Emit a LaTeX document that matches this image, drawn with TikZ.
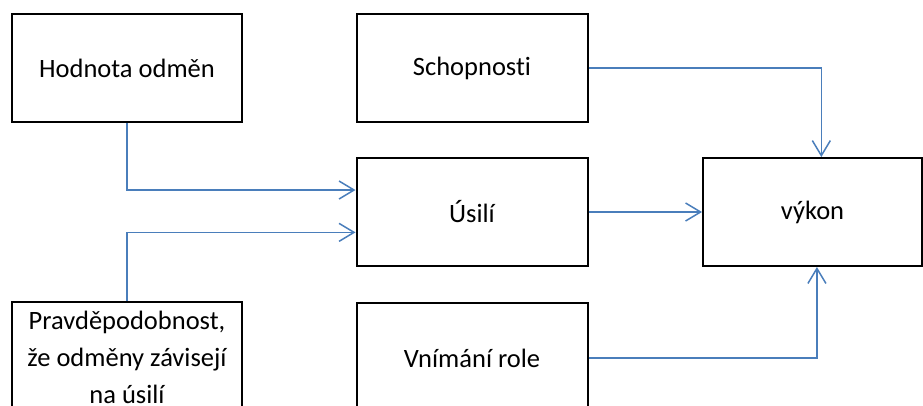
\documentclass[tikz,border=0pt]{standalone}
\usepackage{fontspec}
\setmainfont{Carlito}[Ligatures=NoCommon]
\usetikzlibrary{arrows.meta,calc}
\definecolor{conncol}{RGB}{74,126,187}
\tikzset{
  box/.style={draw=black, line width=2pt, rectangle, inner sep=0pt, minimum height=108pt, align=center, font=\fontsize{26.5}{37}\selectfont},
  conn/.style={draw=conncol, line width=1.5pt, -{Straight Barb[length=15pt,width=18pt,line width=1.5pt]}}
}
\begin{document}
\begin{tikzpicture}[x=1pt,y=-1pt]
\useasboundingbox (0,0) rectangle (923,405);
\clip (0,0) rectangle (923,405);
\node[box, minimum width=230pt] (hod) at (127,68) {Hodnota odměn};
\node[box, minimum width=231pt] (sch) at (472,68) {Schopnosti};
\node[box, minimum width=231pt] (usi) at (472,212) {Úsilí};
\node[box, minimum width=219pt] (vyk) at (812.5,212) {výkon};
\node[box, minimum width=230pt, minimum height=110pt] (pra) at (127,357) {Pravděpodobnost,\\že odměny závisejí\\na úsilí};
\node[box, minimum width=231pt, minimum height=110pt] (vni) at (472,358) {Vnímání role};
\draw[conn] (hod.south) |- ($(usi.north west)!0.3!(usi.south west)$);
\draw[conn] (pra.north) |- ($(usi.north west)!0.685!(usi.south west)$);
\draw[conn] (sch.east) -| ($(vyk.north west)!0.54!(vyk.north east)$);
\draw[conn] (usi.east) -- (vyk.west);
\draw[conn] (vni.east) -| ($(vyk.south west)!0.52!(vyk.south east)$);
\end{tikzpicture}
\end{document}
